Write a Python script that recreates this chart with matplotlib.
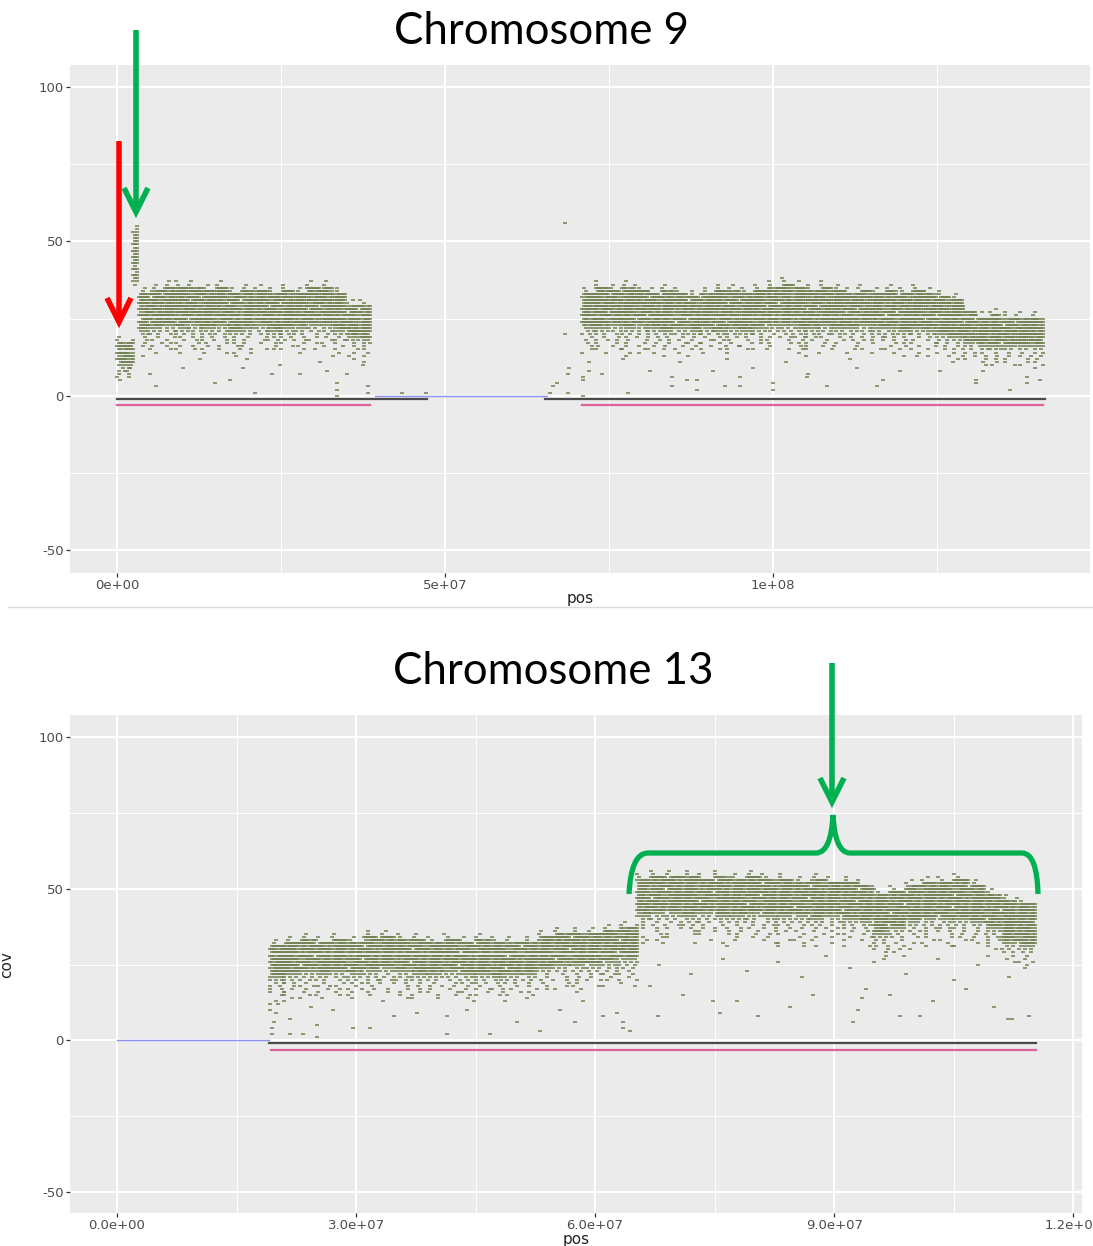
import matplotlib
matplotlib.use("Agg")
import matplotlib.pyplot as plt
from matplotlib.path import Path
from matplotlib.patches import PathPatch

plt.rcParams["axes.unicode_minus"] = False

# ---------------- data (positions in Mb, coverage in reads) ----------------
# chromosome 9: dense band per bin (start, end, band top, band bottom, lowest fringe row)
c9_start = [0.0, 2.5, 3.3, 5, 7, 9, 11, 13, 15, 17, 19, 21, 23, 25, 27, 29, 31, 33, 35, 37,
            70.9, 73, 75, 77, 79, 81, 83, 85, 87, 89, 91, 93, 95, 97, 99, 101, 103, 105, 107,
            109, 111, 113, 115, 117, 119, 121, 123, 125, 127, 129, 131, 133, 135, 137, 139]
c9_end = [2.5, 3.3, 5, 7, 9, 11, 13, 15, 17, 19, 21, 23, 25, 27, 29, 31, 33, 35, 37, 38.6,
          73, 75, 77, 79, 81, 83, 85, 87, 89, 91, 93, 95, 97, 99, 101, 103, 105, 107, 109,
          111, 113, 115, 117, 119, 121, 123, 125, 127, 129, 131, 133, 135, 137, 139, 141.2]
c9_hi = [17, 53, 33, 34, 35, 35, 35, 34, 35, 33, 34, 34, 33, 34, 33, 35, 35, 33, 29, 29,
         33, 35, 34, 35, 34, 33, 34, 33, 32, 33, 34, 34, 33, 34, 35, 36, 35, 34, 35,
         34, 33, 34, 33, 34, 33, 34, 33, 32, 31, 27, 25, 26, 25, 25, 25]
c9_lo = [11, 38, 22, 23, 24, 23, 24, 23, 24, 22, 23, 24, 22, 23, 23, 24, 24, 22, 20, 19,
         23, 23, 24, 23, 24, 23, 22, 23, 22, 23, 22, 23, 22, 23, 24, 24, 23, 23, 24,
         23, 23, 24, 23, 23, 22, 23, 22, 21, 20, 18, 17, 17, 17, 17, 17]
c9_floor = [6, 36, 13, 14, 14, 13, 15, 14, 14, 13, 14, 15, 13, 14, 14, 15, 14, 13, 12, 11,
            14, 14, 15, 13, 14, 14, 13, 14, 13, 14, 13, 14, 13, 14, 15, 14, 14, 13, 14,
            14, 14, 15, 14, 14, 13, 14, 13, 13, 12, 11, 10, 10, 10, 9, 9]
# chromosome 9: isolated low points
c9_px = [6.0, 14.9, 21.0, 33.5, 33.5, 33.5, 38.3, 38.3, 23.6, 27.9, 32.0, 35.0, 5.0, 0.5, 1.2,
         2.0, 17.2, 19.2, 10.1, 12.6, 19.8, 24.8, 30.9, 37.5, 43.4, 47.1, 66.0, 66.4, 67.0,
         68.8, 72.0, 72.0, 71.0, 68.8, 71.0, 68.3, 68.3, 68.9, 71.0, 77.9, 84.6, 84.6, 88.4,
         88.4, 92.7, 95.0, 95.0, 100.0, 100.0, 108.2, 73.9, 81.2, 86.9, 90.8, 97.0, 105.3,
         77.1, 85.8, 93.0, 102.0, 115.8, 116.8, 112.8, 119.3, 125.4, 131.0, 131.0, 136.1,
         138.7, 138.7, 140.7, 132.0, 132.0, 105.2, 111.7, 121.9, 127.4]
c9_py = [3, 4, 1, 0, 2, 4, 1, 3, 7, 7, 8, 7, 7, 5, 8, 9, 5, 9, 9, 12, 12, 10, 11, 10, 1, 1,
         1, 3, 4, 7, 8, 11, 5, 1, 0, 56, 20, 9, 6, 1, 3, 6, 2, 5, 3, 3, 6, 2, 4, 3, 7, 8, 5,
         8, 9, 7, 12, 11, 12, 11, 3, 5, 9, 8, 8, 4, 5, 2, 4, 6, 5, 8, 11, 6, 12, 13, 11]
c9_black = [(0.0, 47.2), (65.2, 141.5)]
c9_blue = [(39.3, 65.5)]
c9_pink = [(0.0, 38.6), (70.9, 141.2)]

# chromosome 13
c13_start = [19.2, 21, 23, 25, 27, 29, 31, 33, 35, 37, 39, 41, 43, 45, 47, 49, 51, 53, 55, 57,
             59, 61, 63, 65.3, 67, 69, 71, 73, 75, 77, 79, 81, 83, 85, 87, 89, 91, 93, 95,
             97, 99, 101, 103, 105, 107, 109, 111, 113]
c13_end = [21, 23, 25, 27, 29, 31, 33, 35, 37, 39, 41, 43, 45, 47, 49, 51, 53, 55, 57, 59,
           61, 63, 65.3, 67, 69, 71, 73, 75, 77, 79, 81, 83, 85, 87, 89, 91, 93, 95, 97,
           99, 101, 103, 105, 107, 109, 111, 113, 115.3]
c13_hi = [31, 32, 33, 32, 33, 32, 34, 34, 33, 33, 32, 33, 32, 33, 32, 32, 32, 34, 35, 35,
          35, 36, 37, 53, 54, 54, 54, 53, 54, 53, 54, 53, 53, 52, 53, 52, 52, 51, 48,
          49, 51, 52, 52, 53, 51, 48, 46, 45]
c13_lo = [22, 23, 24, 23, 24, 23, 24, 25, 24, 23, 23, 24, 23, 23, 22, 23, 23, 25, 26, 26,
          26, 27, 28, 42, 43, 43, 42, 43, 42, 42, 43, 42, 42, 42, 41, 42, 41, 40, 36,
          38, 40, 41, 41, 41, 40, 38, 33, 32]
c13_floor = [10, 13, 14, 13, 14, 13, 14, 15, 14, 14, 13, 14, 13, 14, 13, 13, 14, 15, 16, 16,
             16, 17, 18, 31, 32, 33, 32, 32, 31, 32, 32, 32, 31, 31, 31, 32, 31, 30, 26,
             28, 30, 31, 31, 31, 30, 28, 26, 25]
c13_px = [19.5, 19.5, 19.7, 20.0, 20.2, 21.7, 21.7, 23.4, 25.1, 25.1, 29.6, 31.8, 34.7, 41.4,
          41.4, 46.8, 50.2, 53.1, 63.5, 57.5, 61.0, 27.1, 37.6, 43.9, 55.6, 58.5, 33.4, 24.3,
          62.7, 63.5, 64.4, 67.9, 75.7, 80.5, 84.5, 92.4, 93.0, 93.5, 94.0, 98.3, 100.8,
          111.8, 112.3, 114.4, 110.0, 74.8, 77.8, 87.4, 102.4, 106.6, 71.0, 66.9, 97.0,
          68, 72, 76, 79, 83, 86, 89, 92, 99, 103, 105, 108, 112, 114]
c13_py = [2, 4, 6, 9, 12, 2, 7, 2, 1, 5, 4, 4, 8, 2, 8, 2, 6, 3, 4, 6, 8, 10, 9, 10, 10, 13,
          13, 11, 9, 6, 3, 8, 9, 8, 11, 6, 10, 14, 17, 8, 8, 7, 7, 8, 11, 13, 13, 15, 13,
          17, 15, 18, 15, 25, 22, 27, 23, 26, 21, 28, 24, 22, 27, 20, 25, 21, 24]
c13_black = [(19.1, 115.3)]
c13_blue = [(0.0, 19.1)]
c13_pink = [(19.3, 115.3)]

# ---------------- helpers ----------------
W, H = 1093, 1246
PT_GREEN = "#6f7f4e"


def band_points(starts, ends, his, los, floors, step):
    # rows of read-depth dashes: full density inside the band, thinning outside it
    xs, ys = [], []
    for i, (s, e, hi, lo, fl) in enumerate(zip(starts, ends, his, los, floors)):
        for y in range(fl, hi + 3):
            if lo <= y <= hi:
                k, spacing = 0, step
            elif y < lo:
                k = lo - y
                spacing = step * (k + 1)
            else:
                k = y - hi
                spacing = step * (5 * k + 3)
            off = ((y * 7 + i * 5) % (k + 2)) * step
            x = s + off
            j = 0
            while x < e:
                if k > 0 or (j * 5 + y * 3 + i) % 11 != 0:
                    xs.append(x * 1e6)
                    ys.append(y)
                x += spacing
                j += 1
    return xs, ys


def setup(ax, xlim, ylim, xmaj, xlabels, xmin, label_y):
    ax.set_facecolor("#EBEBEB")
    for sp in ax.spines.values():
        sp.set_visible(False)
    ax.set_xlim(*xlim)
    ax.set_ylim(*ylim)
    ax.set_xticks(xmaj)
    ax.set_xticklabels(xlabels)
    ax.set_xticks(xmin, minor=True)
    ax.set_yticks([-50, 0, 50, 100])
    ax.set_yticks([-25, 25, 75], minor=True)
    ax.grid(True, which="major", color="white", lw=1.5)
    ax.grid(True, which="minor", color="white", lw=0.7)
    ax.set_axisbelow(True)
    ax.tick_params(which="major", length=3, width=0.9, color="#333333",
                   labelcolor="#4D4D4D", labelsize=9.5, pad=1.5)
    ax.tick_params(which="minor", length=0)
    ax.set_xlabel("pos", fontsize=11, color="#222222")
    ax.xaxis.set_label_coords(0.5, label_y)
    ax.xaxis.label.set_va("center")


def draw_chrom(ax, starts, ends, his, los, floors, step, px, py, black, blue, pink):
    for a, b in blue:
        ax.plot([a * 1e6, b * 1e6], [0, 0], color="#8f8ff2", lw=1.0, zorder=2)
    for a, b in black:
        ax.plot([a * 1e6, b * 1e6], [-1, -1], color="#4a4a4a", lw=1.6, zorder=3)
    for a, b in pink:
        ax.plot([a * 1e6, b * 1e6], [-3, -3], color="#e0609e", lw=1.6, zorder=3)
    xs, ys = band_points(starts, ends, his, los, floors, step)
    ax.plot(xs, ys, ls="none", marker="_", ms=3.2, mew=1.1, color=PT_GREEN, zorder=4)
    ax.plot([v * 1e6 for v in px], py, ls="none", marker="_", ms=3.2, mew=1.1,
            color=PT_GREEN, zorder=4)


fig = plt.figure(figsize=(W / 100, H / 100), dpi=100)

# top panel: chromosome 9
ax1 = fig.add_axes([70 / W, 1 - 573 / H, 1020 / W, 508 / H])
setup(ax1, (-7.16e6, 1.483e8), (-57.4, 107.1), [0, 5e7, 1e8],
      ["0e+00", "5e+07", "1e+08"], [2.5e7, 7.5e7, 1.25e8], -0.051)
draw_chrom(ax1, c9_start, c9_end, c9_hi, c9_lo, c9_floor, 0.3,
           c9_px, c9_py, c9_black, c9_blue, c9_pink)

# bottom panel: chromosome 13
ax2 = fig.add_axes([70 / W, 1 - 1213 / H, 1012 / W, 498 / H])
setup(ax2, (-5.9e6, 1.211e8), (-56.9, 107.3), [0, 3e7, 6e7, 9e7, 1.2e8],
      ["0.0e+00", "3.0e+07", "6.0e+07", "9.0e+07", "1.2e+08"],
      [1.5e7, 4.5e7, 7.5e7, 1.05e8], -0.054)
draw_chrom(ax2, c13_start, c13_end, c13_hi, c13_lo, c13_floor, 0.25,
           c13_px, c13_py, c13_black, c13_blue, c13_pink)
fig.text(7 / W, 1 - 965 / H, "cov", rotation=90, fontsize=11, color="#222222",
         ha="center", va="center")

# titles
fig.text(541 / W, 1 - 31 / H, "Chromosome 9", fontsize=31.5, family="Lato",
         ha="center", va="center", color="black")
fig.text(553 / W, 1 - 671 / H, "Chromosome 13", fontsize=31.5, family="Lato",
         ha="center", va="center", color="black")

# annotation overlay in pixel coordinates
ov = fig.add_axes([0, 0, 1, 1])
ov.set_xlim(0, W)
ov.set_ylim(H, 0)
ov.axis("off")
ov.patch.set_alpha(0)

ov.plot([8, W], [607, 607], color="#dcdcdc", lw=1.0)

RED = "#ff0000"
GREEN = "#00b050"


def arrow(x, y0, y1, color):
    ov.plot([x, x], [y0, y1 - 4], color=color, lw=4.0, solid_capstyle="butt")
    ov.plot([x - 12, x, x + 12], [y1 - 24, y1, y1 - 24], color=color, lw=4.0,
            solid_joinstyle="miter", solid_capstyle="butt")


arrow(119, 141, 322, RED)
arrow(136, 30, 212, GREEN)
arrow(832, 663, 802, GREEN)

verts = [(629, 894), (631, 853), (648, 853), (816, 853), (831, 853), (833, 815),
         (835, 853), (850, 853), (1022, 853), (1037, 853), (1038, 894)]
codes = [Path.MOVETO, Path.CURVE3, Path.CURVE3, Path.LINETO, Path.CURVE3, Path.CURVE3,
         Path.CURVE3, Path.CURVE3, Path.LINETO, Path.CURVE3, Path.CURVE3]
ov.add_patch(PathPatch(Path(verts, codes), facecolor="none", edgecolor=GREEN, lw=3.8))

fig.savefig("out.png", dpi=100)
